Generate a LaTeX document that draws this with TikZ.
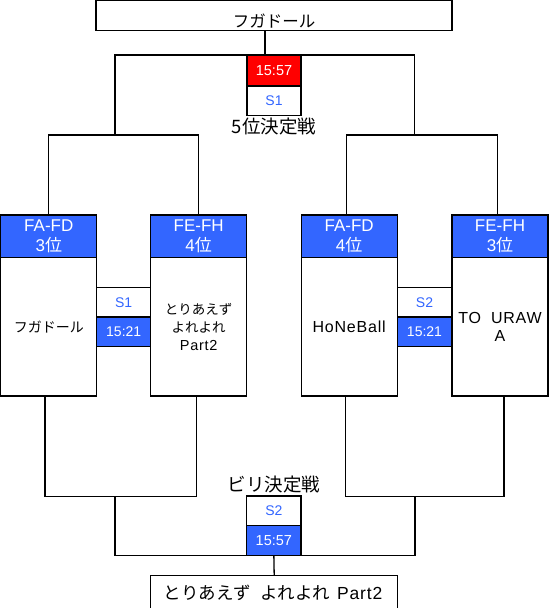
\documentclass[tikz,border=0pt]{standalone}
\usepackage{fontspec}
\setmainfont{Liberation Sans}
\newfontfamily\jp{Noto Sans CJK JP}
\newfontfamily\wide[LetterSpace=5]{Liberation Sans}
\usetikzlibrary{calc}
\definecolor{bl}{RGB}{51,102,255}
\definecolor{rd}{RGB}{255,0,0}
\tikzset{
  ln/.style={draw=black, line width=1.3pt},
  box/.style={draw=black, line width=1.3pt, rectangle, inner sep=0pt, outer sep=0pt},
  hdr/.style={box, fill=bl, text=white, minimum width=96pt, minimum height=42.7pt, align=center, font=\fontsize{17}{20}\selectfont},
  body/.style={box, fill=white, minimum width=96pt, minimum height=138.3pt, align=center},
  sw/.style={box, fill=white, text=bl, minimum width=54pt, minimum height=29.5pt, font=\fontsize{14}{16}\selectfont},
  sb/.style={box, fill=bl, text=white, minimum width=54pt, minimum height=29.7pt, font=\fontsize{14}{16}\selectfont},
  lbl/.style={font=\jp\fontsize{18.5}{20}\selectfont, inner sep=0pt},
}
\begin{document}
\begin{tikzpicture}[x=1pt,y=-1pt]
\useasboundingbox (0,0) rectangle (549,608);
% top
\node[box, minimum width=356pt, minimum height=30pt] (topbox) at (274,15.75) {};
\node[font=\jp\fontsize{16.5}{18}\selectfont, inner sep=0pt] (toptext) at (274,21.5) {フガドール};
\coordinate (j1) at (115,135);
\coordinate (j2) at (414.3,135);
\draw[ln] (j1) |- (274,55) -| (j2);
\node[box, fill=rd, text=white, minimum width=54pt, minimum height=31pt, font=\fontsize{14.5}{16}\selectfont] (red) at (274,70.5) {15:57};
\node[sw, anchor=north] (s1top) at (red.south) {S1};
\draw[ln] ($(topbox.south)+(-9,0)$) -- ($(red.north)+(-9,0)$);
\node[lbl] (lbl5) at (274,127) {5位決定戦};
% headers
\node[hdr] (Ah) at (48.8,236.3) {FA-FD\\3{\jp 位}};
\node[hdr] (Bh) at (198.7,236.3) {FE-FH\\4{\jp 位}};
\node[hdr] (Ch) at (349.2,236.3) {FA-FD\\4{\jp 位}};
\node[hdr] (Dh) at (500,236.3) {FE-FH\\3{\jp 位}};
\draw[ln] (Ah.north) |- (j1) -| (Bh.north);
\draw[ln] ($(Ch.north)+(-2.5,0)$) |- (j2) -| ($(Dh.north)+(-2.5,0)$);
% middle boxes
\node[sw] (m1w) at (123.7,302.35) {S1};
\node[sb, anchor=north] (m1b) at (m1w.south) {15:21};
\node[sw, minimum width=54.4pt] (m2w) at (424.5,302.35) {S2};
\node[sb, minimum width=54.4pt, anchor=north] (m2b) at (m2w.south) {15:21};
% bodies
\node[body, anchor=north, font=\jp\fontsize{14}{18}\selectfont] (Ab) at (Ah.south) {フガドール};
\node[body, anchor=north, font=\jp\fontsize{13.5}{18}\selectfont] (Bb) at (Bh.south) {とりあえず\\よれよれ\\{\wide\fontsize{14.5}{18}\selectfont Part2}};
\node[body, anchor=north, font=\wide\fontsize{16}{18}\selectfont] (Cb) at (Ch.south) {HoNeBall};
\node[body, anchor=north, font=\wide\fontsize{16}{18.5}\selectfont] (Db) at (Dh.south) {TO\hspace{10pt}URAW\\A};
% bottom
\coordinate (j3) at (115,496.5);
\coordinate (j4) at (415,496.5);
\draw[ln] ($(Ab.south)+(-3.8,0)$) |- (j3) -| ($(Bb.south)+(-2,0)$);
\draw[ln] ($(Cb.south)+(-3.5,0)$) |- (j4) -| ($(Db.south)+(4,0)$);
\node[lbl] (lblB) at (274,485) {ビリ決定戦};
\node[sw, minimum width=54.3pt, minimum height=29.7pt] (s2w) at (273.85,510.85) {S2};
\node[sb, minimum width=54.3pt, minimum height=30pt, anchor=north, font=\fontsize{14.5}{16}\selectfont] (s2b) at (s2w.south) {15:57};
\draw[ln] (j3) |- (s2b.south) -| (j4);
\node[box, minimum width=247pt, minimum height=40pt, anchor=north] (final) at (274.2,575.5) {};
\draw[ln] (s2b.south) -- (final.north);
\node[font=\jp\fontsize{17.5}{18}\selectfont, inner sep=0pt] (finaltext) at (273,593) {とりあえず\hspace{5pt} よれよれ\hspace{3pt} {\wide\fontsize{17.5}{18}\selectfont Part2}};
\end{tikzpicture}
\end{document}
